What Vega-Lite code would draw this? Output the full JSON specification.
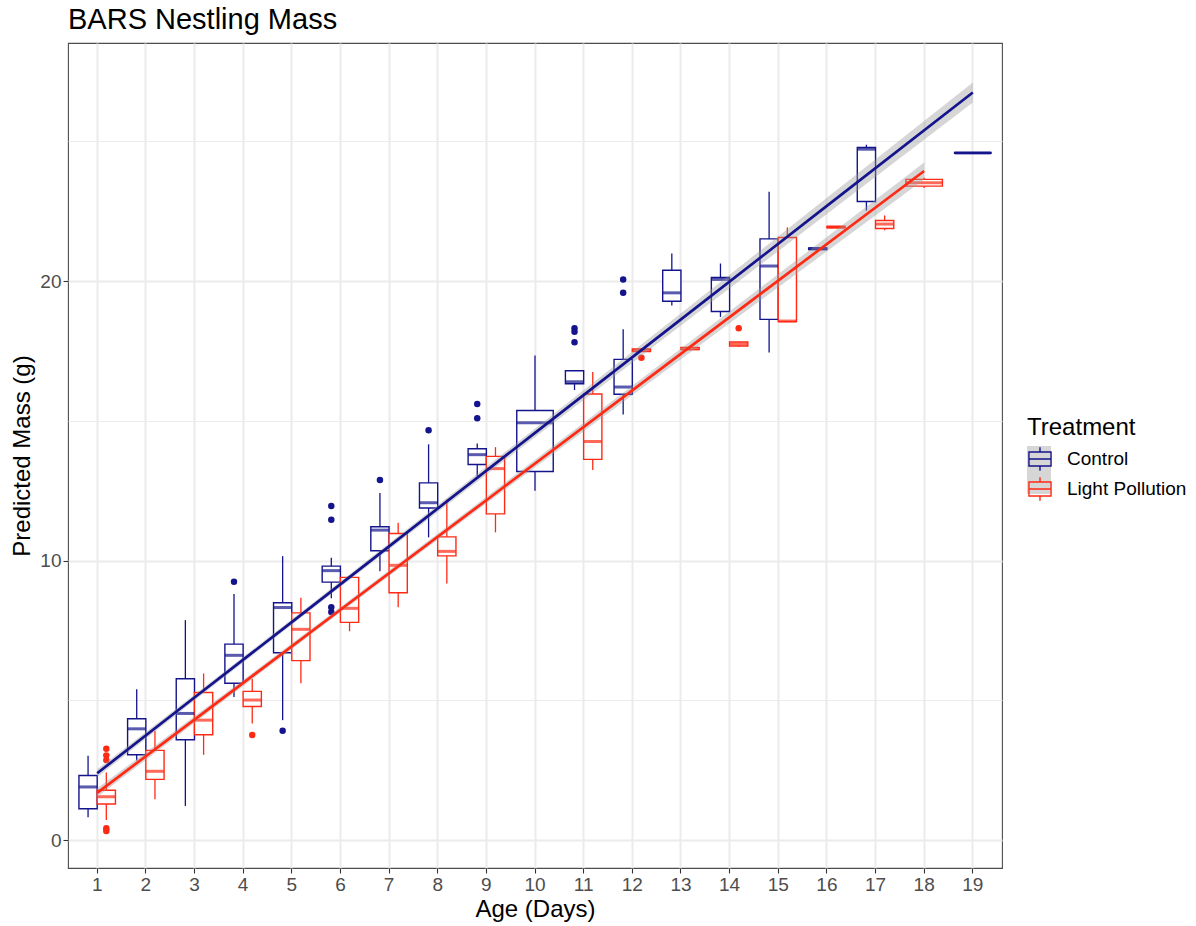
{
  "$schema": "https://vega.github.io/schema/vega-lite/v6.json",
  "width": 934,
  "height": 825,
  "autosize": {"type": "none"},
  "padding": {"left": 68, "top": 43, "right": 194, "bottom": 58},
  "background": "white",
  "title": {"text": "BARS Nestling Mass", "anchor": "start", "frame": "group", "fontSize": 29, "fontWeight": "normal", "color": "black", "baseline": "alphabetic", "offset": 13.5, "dy": 28.5},
  "config": {
    "font": "Liberation Sans",
    "view": {"stroke": "#4d4d4d", "strokeWidth": 1.1},
    "axis": {"labelFontSize": 19, "labelColor": "#4d4d4d", "titleFontSize": 24, "titleFontWeight": "normal", "titleColor": "black", "tickColor": "#333333", "tickSize": 5, "tickWidth": 1.1, "domain": false, "gridColor": "#ebebeb"}
  },
  "datasets": {
    "boxes": [
      {"day": 1, "treatment": "Control", "lo": 0.82, "q1": 1.12, "med": 1.90, "q3": 2.31, "hi": 3.02},
      {"day": 2, "treatment": "Control", "lo": 2.85, "q1": 3.05, "med": 3.98, "q3": 4.34, "hi": 5.40},
      {"day": 3, "treatment": "Control", "lo": 1.22, "q1": 3.59, "med": 4.53, "q3": 5.77, "hi": 7.87},
      {"day": 4, "treatment": "Control", "lo": 5.12, "q1": 5.61, "med": 6.61, "q3": 7.01, "hi": 8.80},
      {"day": 5, "treatment": "Control", "lo": 4.29, "q1": 6.70, "med": 8.32, "q3": 8.49, "hi": 10.16},
      {"day": 6, "treatment": "Control", "lo": 8.65, "q1": 9.23, "med": 9.64, "q3": 9.80, "hi": 10.10},
      {"day": 7, "treatment": "Control", "lo": 9.62, "q1": 10.35, "med": 11.09, "q3": 11.21, "hi": 12.42},
      {"day": 8, "treatment": "Control", "lo": 10.83, "q1": 11.88, "med": 12.07, "q3": 12.78, "hi": 14.16},
      {"day": 9, "treatment": "Control", "lo": 13.03, "q1": 13.44, "med": 13.79, "q3": 14.00, "hi": 14.19},
      {"day": 10, "treatment": "Control", "lo": 12.50, "q1": 13.19, "med": 14.93, "q3": 15.37, "hi": 17.34},
      {"day": 11, "treatment": "Control", "lo": 16.10, "q1": 16.33, "med": 16.40, "q3": 16.79, "hi": 16.80},
      {"day": 12, "treatment": "Control", "lo": 15.23, "q1": 15.95, "med": 16.21, "q3": 17.20, "hi": 18.28},
      {"day": 13, "treatment": "Control", "lo": 19.13, "q1": 19.28, "med": 19.58, "q3": 20.39, "hi": 20.99},
      {"day": 14, "treatment": "Control", "lo": 18.72, "q1": 18.91, "med": 20.06, "q3": 20.13, "hi": 20.63},
      {"day": 15, "treatment": "Control", "lo": 17.45, "q1": 18.63, "med": 20.54, "q3": 21.51, "hi": 23.20},
      {"day": 16, "treatment": "Control", "lo": 21.12, "q1": 21.13, "med": 21.16, "q3": 21.19, "hi": 21.20},
      {"day": 17, "treatment": "Control", "lo": 22.52, "q1": 22.85, "med": 24.72, "q3": 24.78, "hi": 24.88},
      {"day": 19, "treatment": "Control", "lo": 24.56, "q1": 24.57, "med": 24.58, "q3": 24.60, "hi": 24.61},
      {"day": 1, "treatment": "Light Pollution", "lo": 0.72, "q1": 1.29, "med": 1.55, "q3": 1.78, "hi": 2.42},
      {"day": 2, "treatment": "Light Pollution", "lo": 1.46, "q1": 2.17, "med": 2.46, "q3": 3.21, "hi": 3.90},
      {"day": 3, "treatment": "Light Pollution", "lo": 3.05, "q1": 3.77, "med": 4.29, "q3": 5.28, "hi": 5.96},
      {"day": 4, "treatment": "Light Pollution", "lo": 4.17, "q1": 4.78, "med": 5.01, "q3": 5.32, "hi": 5.76},
      {"day": 5, "treatment": "Light Pollution", "lo": 5.61, "q1": 6.42, "med": 7.54, "q3": 8.13, "hi": 8.67},
      {"day": 6, "treatment": "Light Pollution", "lo": 7.47, "q1": 7.79, "med": 8.29, "q3": 9.40, "hi": 9.42},
      {"day": 7, "treatment": "Light Pollution", "lo": 8.33, "q1": 8.85, "med": 9.83, "q3": 10.97, "hi": 11.35},
      {"day": 8, "treatment": "Light Pollution", "lo": 9.18, "q1": 10.17, "med": 10.33, "q3": 10.85, "hi": 12.19},
      {"day": 9, "treatment": "Light Pollution", "lo": 11.01, "q1": 11.67, "med": 13.29, "q3": 13.73, "hi": 14.06},
      {"day": 11, "treatment": "Light Pollution", "lo": 13.24, "q1": 13.62, "med": 14.26, "q3": 15.96, "hi": 16.75},
      {"day": 12, "treatment": "Light Pollution", "lo": 17.47, "q1": 17.48, "med": 17.52, "q3": 17.57, "hi": 17.58},
      {"day": 13, "treatment": "Light Pollution", "lo": 17.53, "q1": 17.55, "med": 17.58, "q3": 17.63, "hi": 17.65},
      {"day": 14, "treatment": "Light Pollution", "lo": 17.65, "q1": 17.68, "med": 17.75, "q3": 17.82, "hi": 17.83},
      {"day": 15, "treatment": "Light Pollution", "lo": 18.55, "q1": 18.55, "med": 18.57, "q3": 21.56, "hi": 21.92},
      {"day": 16, "treatment": "Light Pollution", "lo": 21.90, "q1": 21.91, "med": 21.93, "q3": 21.96, "hi": 21.97},
      {"day": 17, "treatment": "Light Pollution", "lo": 21.82, "q1": 21.88, "med": 22.04, "q3": 22.17, "hi": 22.35},
      {"day": 18, "treatment": "Light Pollution", "lo": 23.33, "q1": 23.40, "med": 23.52, "q3": 23.64, "hi": 23.70}
    ],
    "outliers": [
      {"day": 4, "treatment": "Control", "mass": 9.24},
      {"day": 5, "treatment": "Control", "mass": 3.91},
      {"day": 6, "treatment": "Control", "mass": 11.95},
      {"day": 6, "treatment": "Control", "mass": 11.46},
      {"day": 6, "treatment": "Control", "mass": 8.33},
      {"day": 6, "treatment": "Control", "mass": 8.16},
      {"day": 7, "treatment": "Control", "mass": 12.88},
      {"day": 8, "treatment": "Control", "mass": 14.66},
      {"day": 9, "treatment": "Control", "mass": 15.60},
      {"day": 9, "treatment": "Control", "mass": 15.09},
      {"day": 11, "treatment": "Control", "mass": 18.31},
      {"day": 11, "treatment": "Control", "mass": 18.19},
      {"day": 11, "treatment": "Control", "mass": 17.81},
      {"day": 12, "treatment": "Control", "mass": 20.06},
      {"day": 12, "treatment": "Control", "mass": 19.58},
      {"day": 1, "treatment": "Light Pollution", "mass": 3.27},
      {"day": 1, "treatment": "Light Pollution", "mass": 3.03},
      {"day": 1, "treatment": "Light Pollution", "mass": 2.86},
      {"day": 1, "treatment": "Light Pollution", "mass": 0.42},
      {"day": 1, "treatment": "Light Pollution", "mass": 0.32},
      {"day": 4, "treatment": "Light Pollution", "mass": 3.76},
      {"day": 12, "treatment": "Light Pollution", "mass": 17.26},
      {"day": 14, "treatment": "Light Pollution", "mass": 18.31}
    ],
    "fit": [
      {"day": 1, "treatment": "Control", "fit": 2.39, "lo": 2.25, "hi": 2.53},
      {"day": 3, "treatment": "Control", "fit": 5.10, "lo": 4.99, "hi": 5.21},
      {"day": 5, "treatment": "Control", "fit": 7.80, "lo": 7.70, "hi": 7.90},
      {"day": 7, "treatment": "Control", "fit": 10.51, "lo": 10.40, "hi": 10.62},
      {"day": 10, "treatment": "Control", "fit": 14.57, "lo": 14.41, "hi": 14.73},
      {"day": 13, "treatment": "Control", "fit": 18.63, "lo": 18.41, "hi": 18.85},
      {"day": 16, "treatment": "Control", "fit": 22.69, "lo": 22.40, "hi": 22.98},
      {"day": 19, "treatment": "Control", "fit": 26.75, "lo": 26.39, "hi": 27.11},
      {"day": 1, "treatment": "Light Pollution", "fit": 1.69, "lo": 1.54, "hi": 1.85},
      {"day": 3, "treatment": "Light Pollution", "fit": 4.31, "lo": 4.19, "hi": 4.43},
      {"day": 6, "treatment": "Light Pollution", "fit": 8.24, "lo": 8.14, "hi": 8.34},
      {"day": 9, "treatment": "Light Pollution", "fit": 12.16, "lo": 12.04, "hi": 12.28},
      {"day": 12, "treatment": "Light Pollution", "fit": 16.09, "lo": 15.92, "hi": 16.26},
      {"day": 15, "treatment": "Light Pollution", "fit": 20.02, "lo": 19.78, "hi": 20.25},
      {"day": 18, "treatment": "Light Pollution", "fit": 23.94, "lo": 23.64, "hi": 24.24}
    ]
  },
  "layer": [
    {
      "data": {"name": "boxes"},
      "transform": [{"joinaggregate": [{"op": "count", "as": "n"}], "groupby": ["day"]}, {"filter": "datum.n == 2"}],
      "mark": {"type": "rule", "strokeWidth": 1.3},
      "encoding": {
        "x": {"field": "day", "type": "ordinal", "bandPosition": 0.5,
          "scale": {"domain": [1,2,3,4,5,6,7,8,9,10,11,12,13,14,15,16,17,18,19], "paddingInner": 0, "paddingOuter": 0.1},
          "axis": {"title": "Age (Days)", "labelAngle": 0, "grid": true, "gridWidth": 2, "labelPadding": 2, "titlePadding": 3}},
        "xOffset": {"field": "treatment", "type": "nominal", "scale": {"domain": ["Control", "Light Pollution"], "paddingInner": 0, "paddingOuter": 0.3333}},
        "y": {"field": "lo", "type": "quantitative",
          "scale": {"domain": [-1.0, 28.52], "nice": false, "zero": false},
          "axis": {"title": "Predicted Mass (g)", "values": [0, 5, 10, 15, 20, 25], "grid": true,
            "gridWidth": {"condition": {"test": "datum.value % 10 === 0", "value": 2}, "value": 1},
            "tickOpacity": {"condition": {"test": "datum.value % 10 === 0", "value": 1}, "value": 0},
            "labelExpr": "datum.value % 10 === 0 ? datum.label : ''", "labelPadding": 2, "titlePadding": 5}},
        "y2": {"field": "hi"},
        "stroke": {"field": "treatment", "type": "nominal", "scale": {"domain": ["Control", "Light Pollution"], "range": ["#14148c", "#ff2a14"]},
          "legend": {"title": "Treatment", "orient": "none", "legendX": 959, "legendY": 373,
            "symbolType": "M-0.92,-0.58H0.92V0.58H-0.92Z M-0.92,0H0.92 M0,-0.58V-0.97 M0,0.58V0.97",
            "symbolSize": 576, "symbolStrokeWidth": 1.4, "symbolFillColor": "transparent", "titleFontSize": 24, "titleFontWeight": "normal", "titleColor": "black",
            "labelFontSize": 19, "labelColor": "black", "labelOffset": 14, "rowPadding": 0, "titlePadding": 6, "padding": 0, "zindex": 2,
            "encode": {"symbols": {"update": {"fill": {"value": "transparent"}, "fillOpacity": {"value": 0}, "opacity": {"value": 1}}}}}}
      }
    },
    {
      "data": {"name": "boxes"},
      "transform": [{"joinaggregate": [{"op": "count", "as": "n"}], "groupby": ["day"]}, {"filter": "datum.n == 1"}],
      "mark": {"type": "rule", "strokeWidth": 1.3},
      "encoding": {
        "x": {"field": "day", "type": "ordinal", "bandPosition": 0.5},
        "y": {"field": "lo", "type": "quantitative"},
        "y2": {"field": "hi"},
        "stroke": {"field": "treatment", "type": "nominal"}
      }
    },
    {
      "data": {"name": "boxes"},
      "transform": [{"joinaggregate": [{"op": "count", "as": "n"}], "groupby": ["day"]}, {"filter": "datum.n == 2"}],
      "mark": {"type": "bar", "fill": "white", "strokeWidth": 1.4},
      "encoding": {
        "x": {"field": "day", "type": "ordinal"},
        "xOffset": {"field": "treatment", "type": "nominal"},
        "y": {"field": "q1", "type": "quantitative"},
        "y2": {"field": "q3"},
        "stroke": {"field": "treatment", "type": "nominal"}
      }
    },
    {
      "data": {"name": "boxes"},
      "transform": [{"joinaggregate": [{"op": "count", "as": "n"}], "groupby": ["day"]}, {"filter": "datum.n == 1"}],
      "mark": {"type": "bar", "fill": "white", "strokeWidth": 1.4, "width": {"band": 0.75}},
      "encoding": {
        "x": {"field": "day", "type": "ordinal"},
        "y": {"field": "q1", "type": "quantitative"},
        "y2": {"field": "q3"},
        "stroke": {"field": "treatment", "type": "nominal"}
      }
    },
    {
      "data": {"name": "boxes"},
      "transform": [{"joinaggregate": [{"op": "count", "as": "n"}], "groupby": ["day"]}, {"filter": "datum.n == 2"}],
      "mark": {"type": "tick", "size": 18, "thickness": 3, "orient": "horizontal"},
      "encoding": {
        "x": {"field": "day", "type": "ordinal", "bandPosition": 0.5},
        "xOffset": {"field": "treatment", "type": "nominal"},
        "y": {"field": "med", "type": "quantitative"},
        "color": {"field": "treatment", "type": "nominal", "scale": {"domain": ["Control", "Light Pollution"], "range": ["#14148c", "#ff2a14"]}, "legend": null}
      }
    },
    {
      "data": {"name": "boxes"},
      "transform": [{"joinaggregate": [{"op": "count", "as": "n"}], "groupby": ["day"]}, {"filter": "datum.n == 1"}],
      "mark": {"type": "tick", "size": 36, "thickness": 3, "orient": "horizontal"},
      "encoding": {
        "x": {"field": "day", "type": "ordinal", "bandPosition": 0.5},
        "y": {"field": "med", "type": "quantitative"},
        "color": {"field": "treatment", "type": "nominal", "legend": null}
      }
    },
    {
      "data": {"name": "outliers"},
      "mark": {"type": "point", "filled": true, "size": 42, "opacity": 1},
      "encoding": {
        "x": {"field": "day", "type": "ordinal", "bandPosition": 0.5},
        "xOffset": {"field": "treatment", "type": "nominal"},
        "y": {"field": "mass", "type": "quantitative"},
        "color": {"field": "treatment", "type": "nominal", "legend": null}
      }
    },
    {
      "data": {"name": "fit"},
      "mark": {"type": "area", "fillOpacity": 0.4},
      "encoding": {
        "x": {"field": "day", "type": "ordinal", "bandPosition": 0.5},
        "y": {"field": "lo", "type": "quantitative"},
        "y2": {"field": "hi"},
        "fill": {"field": "treatment", "type": "nominal", "scale": {"range": ["#999999", "#999999"]},
          "legend": {"title": " ", "orient": "none", "legendX": 959, "legendY": 373, "symbolType": "square", "symbolSize": 576,
            "symbolOpacity": 0.4, "symbolStrokeWidth": 0, "titleFontSize": 24, "titleFontWeight": "normal",
            "labelFontSize": 19, "labelExpr": "''", "labelOffset": 14, "rowPadding": 0, "titlePadding": 6, "padding": 0, "zindex": 1}}
      }
    },
    {
      "data": {"name": "fit"},
      "mark": {"type": "line", "strokeWidth": 2.7},
      "encoding": {
        "x": {"field": "day", "type": "ordinal", "bandPosition": 0.5},
        "y": {"field": "fit", "type": "quantitative"},
        "stroke": {"field": "treatment", "type": "nominal"}
      }
    }
  ]
}
